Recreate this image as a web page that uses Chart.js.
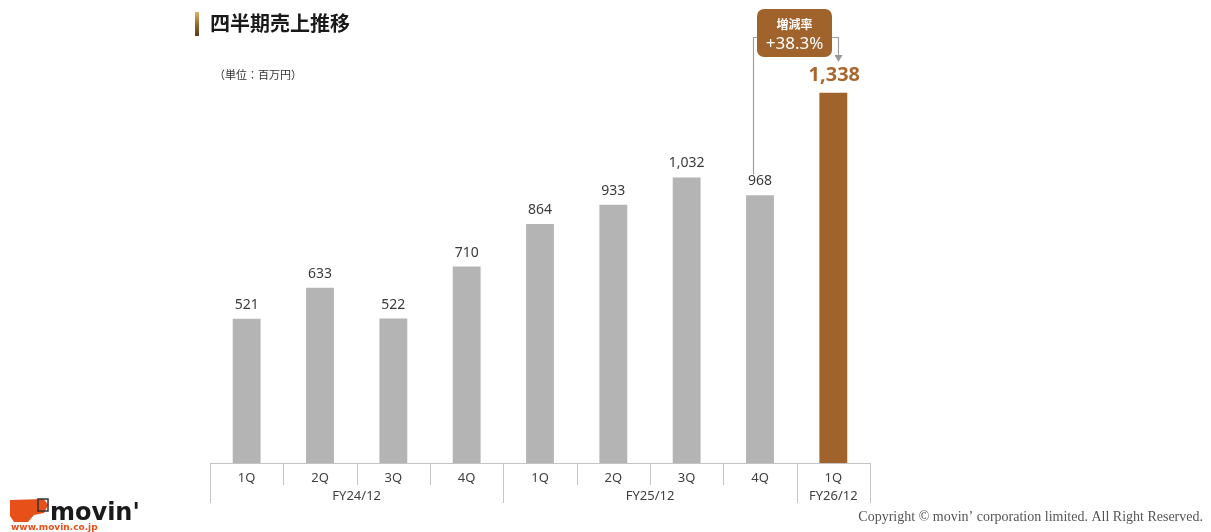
<!DOCTYPE html>
<html><head><meta charset="utf-8">
<script src="https://cdn.jsdelivr.net/npm/chart.js@4/dist/chart.umd.min.js"></script>
<style>html,body{margin:0;padding:0;background:#fff;}#wrap{width:1211px;height:532px;position:relative;}</style>
</head><body><div id="wrap"><canvas id="c" width="1211" height="532"></canvas></div>
<script>
const quarters = ['1Q','2Q','3Q','4Q','1Q','2Q','3Q','4Q','1Q'];
const fiscalYears = ['FY24/12','FY25/12','FY26/12'];
const yearSpans = [4,4,1];
const sales = [521,633,522,710,864,933,1032,968,1338];
const changeRateLabel = '増減率';
const changeRateValue = '+38.3%';
const titleText = '四半期売上推移';
const unitText = '（単位：百万円）';
const copyrightText = 'Copyright © movin\u2019 corporation limited. All Right Reserved.';

const GRAY = '#b4b4b4', BROWN = '#a0632b';
const colors = sales.map((v,i)=> i===sales.length-1 ? BROWN : GRAY);
const SANS = '"Noto Sans", "Noto Sans CJK JP", sans-serif';
const CJK = '"Noto Sans CJK JP", sans-serif';

const decor = {
  id:'decor',
  afterDraw(chart){
    const ctx = chart.ctx, area = chart.chartArea, xs = chart.scales.x;
    const meta = chart.getDatasetMeta(0);
    ctx.save();
    // title
    const g = ctx.createLinearGradient(0,12,0,36);
    g.addColorStop(0,'#e0b070'); g.addColorStop(0.5,'#9a6a30'); g.addColorStop(1,'#5a3a18');
    ctx.fillStyle = g; ctx.fillRect(195,12,4,24);
    ctx.fillStyle = '#1a1a1a'; ctx.font = 'bold 20px ' + CJK;
    ctx.textBaseline = 'middle'; ctx.textAlign = 'left';
    ctx.fillText(titleText, 210, 23);
    ctx.fillStyle = '#333'; ctx.font = '11px ' + CJK;
    ctx.fillText(unitText, 214, 75);
    // value labels
    meta.data.forEach((bar,i)=>{
      const last = i===sales.length-1;
      ctx.textAlign='center'; ctx.textBaseline='middle';
      if(last){ ctx.fillStyle='#a8672f'; ctx.font='bold 20px '+SANS; ctx.fillText(sales[i].toLocaleString('en-US'), bar.x+1, bar.y-18); }
      else { ctx.fillStyle='#3a3a3a'; ctx.font='14px '+SANS; ctx.fillText(sales[i].toLocaleString('en-US'), bar.x, bar.y-14); }
    });
    // category axis boxes
    const y0 = area.bottom;
    ctx.strokeStyle='#c4c4c4'; ctx.lineWidth=1;
    ctx.beginPath(); ctx.moveTo(area.left, y0+0.5); ctx.lineTo(area.right, y0+0.5); ctx.stroke();
    const bounds = [area.left];
    for(let i=0;i<quarters.length-1;i++) bounds.push((xs.getPixelForValue(i)+xs.getPixelForValue(i+1))/2);
    bounds.push(area.right);
    const yearBounds = new Set([0]); let acc=0; yearSpans.forEach(s=>{acc+=s; yearBounds.add(acc);});
    bounds.forEach((bx,i)=>{
      const x = Math.round(bx)+0.5;
      ctx.beginPath(); ctx.moveTo(x,y0); ctx.lineTo(x, yearBounds.has(i)? y0+40 : y0+22); ctx.stroke();
    });
    ctx.fillStyle='#404040'; ctx.font='13px '+SANS; ctx.textAlign='center'; ctx.textBaseline='middle';
    quarters.forEach((q,i)=> ctx.fillText(q, xs.getPixelForValue(i), y0+15));
    let start=0;
    fiscalYears.forEach((fy,k)=>{
      const x = (bounds[start]+bounds[start+yearSpans[k]])/2;
      ctx.fillText(fy, x, y0+33); start+=yearSpans[k];
    });
    // callout
    const b7 = meta.data[7], b8 = meta.data[8];
    const lx = Math.round(b7.x-7)+0.5, rx = Math.round(b8.x+5)+0.5;
    const bx0=757, bx1=832, by0=9, by1=57, cy=37.5;
    ctx.strokeStyle='#a0a0a0'; ctx.lineWidth=1.2;
    ctx.beginPath(); ctx.moveTo(lx, b7.y-21); ctx.lineTo(lx, cy); ctx.lineTo(bx0, cy); ctx.stroke();
    ctx.beginPath(); ctx.moveTo(bx1, cy); ctx.lineTo(rx, cy); ctx.lineTo(rx, 56); ctx.stroke();
    ctx.fillStyle='#999'; ctx.beginPath(); ctx.moveTo(rx-4,55); ctx.lineTo(rx+4,55); ctx.lineTo(rx,62); ctx.closePath(); ctx.fill();
    ctx.fillStyle=BROWN; ctx.beginPath(); ctx.roundRect(bx0,by0,bx1-bx0,by1-by0,7); ctx.fill();
    ctx.fillStyle='#fff'; ctx.textAlign='center';
    ctx.font='bold 12px '+CJK; ctx.fillText(changeRateLabel, (bx0+bx1)/2, 24);
    ctx.font='17px '+SANS; ctx.fillText(changeRateValue, (bx0+bx1)/2, 44);
    // logo
    ctx.fillStyle='#e8501a';
    ctx.beginPath(); ctx.moveTo(10,500); ctx.lineTo(44,499); ctx.lineTo(48,505); ctx.lineTo(44,513); ctx.lineTo(34,515); ctx.lineTo(28,522); ctx.lineTo(14,522); ctx.lineTo(10,516); ctx.closePath(); ctx.fill();
    ctx.strokeStyle='#333'; ctx.lineWidth=1.5; ctx.strokeRect(38,499,10,12);
    ctx.fillStyle='#1a1a1a'; ctx.font='bold 24px "DejaVu Sans", sans-serif'; ctx.textAlign='left'; ctx.textBaseline='alphabetic';
    ctx.fillText("movin'", 50, 520);
    ctx.fillStyle='#e8501a'; ctx.font='bold 9px "DejaVu Sans", sans-serif';
    ctx.fillText('www.movin.co.jp', 11, 530);
    // copyright
    ctx.fillStyle='#555'; ctx.font='14px "Liberation Serif", serif'; ctx.textAlign='right'; ctx.textBaseline='middle';
    ctx.fillText(copyrightText, 1203, 517);
    ctx.restore();
  }
};

new Chart(document.getElementById('c'), {
  type:'bar',
  data:{ labels: quarters, datasets:[{ data: sales, backgroundColor: colors, borderWidth:0, barPercentage:0.38, categoryPercentage:1 }]},
  options:{
    responsive:false, animation:false,
    layout:{ padding:{ left:210, right:341, top:48, bottom:69 } },
    plugins:{ legend:{display:false}, tooltip:{enabled:false} },
    scales:{ x:{ display:false }, y:{ display:false, min:0, max:1500 } }
  },
  plugins:[decor]
});
</script></body></html>
